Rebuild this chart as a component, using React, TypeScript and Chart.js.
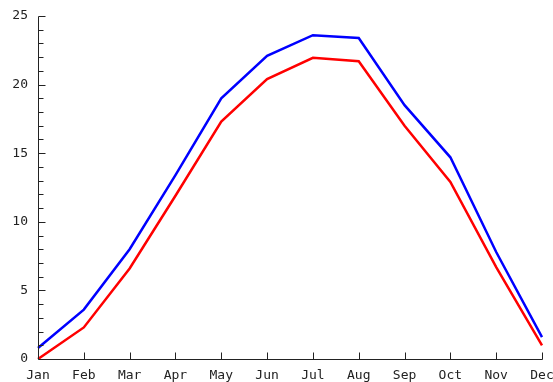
import React, { useEffect, useRef } from "react";
import { Chart, registerables } from "chart.js";

Chart.register(...registerables);

const months = ["Jan", "Feb", "Mar", "Apr", "May", "Jun", "Jul", "Aug", "Sep", "Oct", "Nov", "Dec"];
const blueSeries = [0.8, 3.6, 8.0, 13.4, 19.0, 22.1, 23.6, 23.4, 18.5, 14.7, 7.8, 1.6];
const redSeries = [0.0, 2.3, 6.6, 11.9, 17.3, 20.4, 21.95, 21.7, 17.0, 12.9, 6.7, 1.0];
const yTicks = [0, 5, 10, 15, 20, 25];

const axisPlugin = {
  id: "customAxes",
  afterDatasetsDraw(chart: any) {
    const ctx = chart.ctx;
    const x = chart.scales.x;
    const y = chart.scales.y;
    const left = Math.round(x.getPixelForValue(0)) + 0.5;
    const bottom = Math.round(y.getPixelForValue(0)) + 0.5;
    const top = Math.round(y.getPixelForValue(25)) + 0.5;
    const right = Math.round(x.getPixelForValue(months.length - 1)) + 0.5;
    ctx.save();
    ctx.strokeStyle = "#222";
    ctx.lineWidth = 1;
    ctx.beginPath();
    ctx.moveTo(left, top);
    ctx.lineTo(left, bottom);
    ctx.lineTo(right, bottom);
    ctx.stroke();
    for (let v = 0; v <= 25; v++) {
      const py = Math.round(y.getPixelForValue(v)) + 0.5;
      const len = v % 5 === 0 ? 7 : 5;
      ctx.beginPath();
      ctx.moveTo(left, py);
      ctx.lineTo(left + len, py);
      ctx.stroke();
    }
    for (let i = 1; i < months.length; i++) {
      const px = Math.round(x.getPixelForValue(i)) + 0.5;
      ctx.beginPath();
      ctx.moveTo(px, bottom);
      ctx.lineTo(px, bottom - 7);
      ctx.stroke();
    }
    ctx.restore();
  },
};

export default function App() {
  const ref = useRef<HTMLCanvasElement>(null);
  useEffect(() => {
    const canvas = ref.current;
    if (!canvas) return;
    const chart = new Chart(canvas, {
      type: "line",
      data: {
        labels: months,
        datasets: [
          {
            data: blueSeries,
            borderColor: "#0000ff",
            borderWidth: 2.5,
            pointRadius: 0,
            tension: 0,
            fill: false,
          },
          {
            data: redSeries,
            borderColor: "#ff0000",
            borderWidth: 2.5,
            pointRadius: 0,
            tension: 0,
            fill: false,
          },
        ],
      },
      options: {
        animation: false,
        responsive: false,
        devicePixelRatio: 1,
        layout: { padding: { top: 16, right: 11, left: 0, bottom: 0 } },
        plugins: { legend: { display: false }, tooltip: { enabled: false } },
        scales: {
          x: {
            type: "category",
            offset: false,
            grid: { display: false, drawTicks: false },
            border: { display: false },
            ticks: {
              color: "#222",
              font: { family: "DejaVu Sans Mono", size: 13 },
              padding: 9,
              maxRotation: 0,
              autoSkip: false,
            },
            afterFit: (s: any) => {
              s.height = 23;
              s.paddingLeft = 0;
              s.paddingRight = 0;
            },
          },
          y: {
            min: 0,
            max: 25,
            afterBuildTicks: (s: any) => {
              s.ticks = yTicks.map((v) => ({ value: v }));
            },
            grid: { display: false, drawTicks: false },
            border: { display: false },
            ticks: {
              color: "#222",
              font: { family: "DejaVu Sans Mono", size: 13 },
              padding: 10,
            },
            afterFit: (s: any) => {
              s.width = 38;
              s.paddingTop = 0;
              s.paddingBottom = 0;
            },
          },
        },
      },
      plugins: [axisPlugin],
    });
    return () => chart.destroy();
  }, []);
  return (
    <div style={{ position: "fixed", left: 0, top: 0, width: 553, height: 382, background: "#fff" }}>
      <canvas ref={ref} width={553} height={382} style={{ width: 553, height: 382 }} />
    </div>
  );
}
